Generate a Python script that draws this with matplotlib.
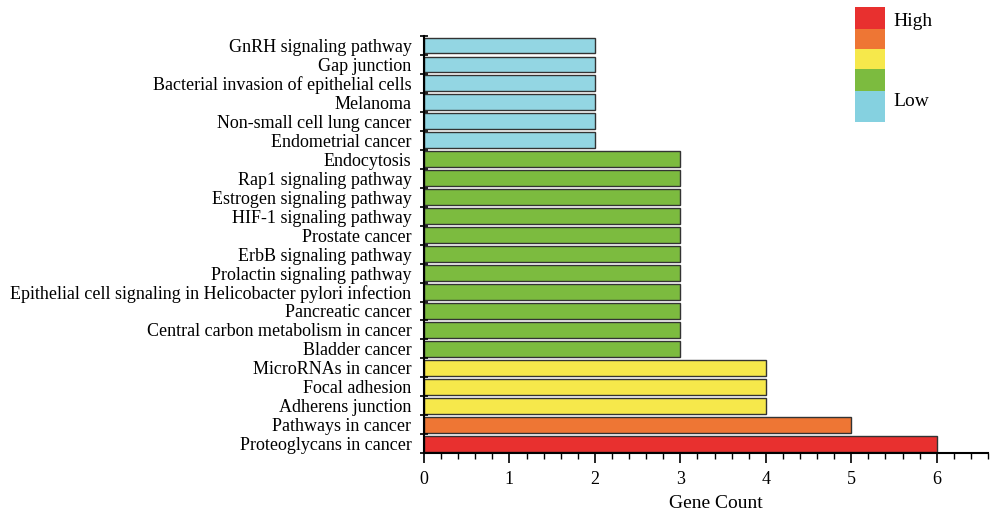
import matplotlib.pyplot as plt
import numpy as np
from matplotlib.patches import Rectangle

plt.rcParams['font.family'] = ['Liberation Serif', 'DejaVu Serif']

pathways = [
    "Proteoglycans in cancer",
    "Pathways in cancer",
    "Adherens junction",
    "Focal adhesion",
    "MicroRNAs in cancer",
    "Bladder cancer",
    "Central carbon metabolism in cancer",
    "Pancreatic cancer",
    "Epithelial cell signaling in Helicobacter pylori infection",
    "Prolactin signaling pathway",
    "ErbB signaling pathway",
    "Prostate cancer",
    "HIF-1 signaling pathway",
    "Estrogen signaling pathway",
    "Rap1 signaling pathway",
    "Endocytosis",
    "Endometrial cancer",
    "Non-small cell lung cancer",
    "Melanoma",
    "Bacterial invasion of epithelial cells",
    "Gap junction",
    "GnRH signaling pathway",
]
counts = [6, 5, 4, 4, 4, 3, 3, 3, 3, 3, 3, 3, 3, 3, 3, 3, 2, 2, 2, 2, 2, 2]

level_colors = {6: "#E8302F", 5: "#EE7634", 4: "#F6E84B", 3: "#7CBB3F", 2: "#93D6E3"}
legend_colors = ["#E8302F", "#EE7634", "#F6E84B", "#7CBB3F", "#85D1E0"]

fig = plt.figure(figsize=(9.92, 5.15), dpi=100)
ax = fig.add_axes([0.4274, 0.12, 0.5686, 0.81])

y = np.arange(len(pathways))
ax.barh(y, counts, height=0.84, color=[level_colors[c] for c in counts],
        edgecolor="#333333", linewidth=1.0)

ax.set_ylim(-0.5, len(pathways) - 0.5)
ax.set_xlim(0, 6.6)
ax.set_yticks(y)
ax.set_yticklabels(pathways, fontsize=13)
ax.tick_params(axis='y', which='major', length=0, pad=9)
ax.set_yticks(np.arange(-0.5, len(pathways), 1.0), minor=True)
ax.tick_params(axis='y', which='minor', length=6, direction='inout', width=1.2)

ax.set_xticks(range(0, 7))
ax.set_xticks(np.arange(0, 6.61, 0.2), minor=True)
ax.tick_params(axis='x', which='major', length=7, width=1.2, labelsize=13, pad=6)
ax.tick_params(axis='x', which='minor', length=4, width=1.0)
ax.set_xlabel("Gene Count", fontsize=14, labelpad=8)
ax.xaxis.set_label_coords(0.518, -0.1)
ax.xaxis.label.set_va('top')

for s in ['top', 'right']:
    ax.spines[s].set_visible(False)
for s in ['left', 'bottom']:
    ax.spines[s].set_linewidth(1.5)

# colour key
x0, w = 855 / 992, 30 / 992
edges = [7, 29, 49, 69, 91, 122]
for i, col in enumerate(legend_colors):
    top = 1 - edges[i] / 515
    bot = 1 - edges[i + 1] / 515
    fig.patches.append(Rectangle((x0, bot), w, top - bot, transform=fig.transFigure,
                                 facecolor=col, edgecolor='none'))
fig.text(893 / 992, 1 - 21 / 515, "High", fontsize=14, va='center')
fig.text(893 / 992, 1 - 101 / 515, "Low", fontsize=14, va='center')

fig.savefig("out.png", dpi=100)
